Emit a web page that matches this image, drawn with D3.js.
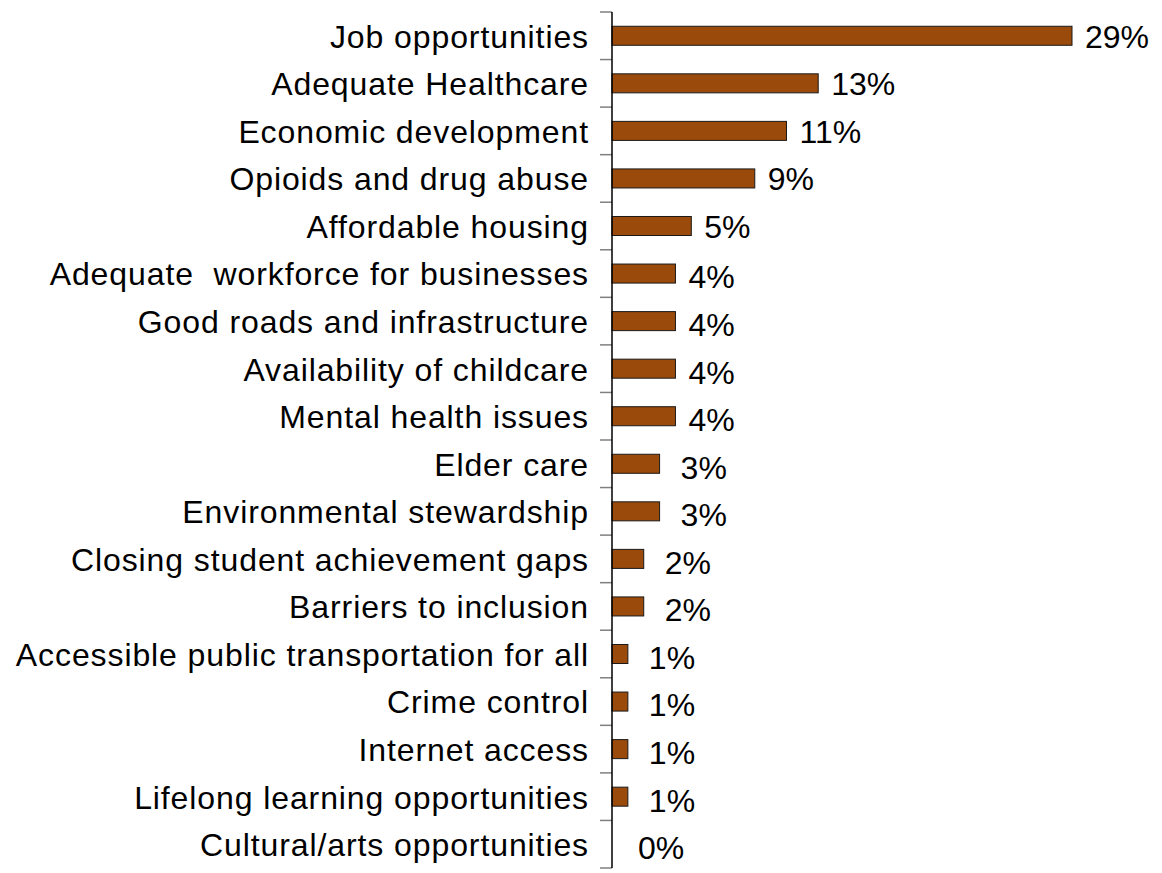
<!DOCTYPE html>
<html>
<head>
<meta charset="utf-8">
<script src="https://cdn.jsdelivr.net/npm/d3@7"></script>
<style>
  html, body { margin: 0; padding: 0; background: #fff; }
  svg { display: block; }
  text { font-family: "Liberation Sans", Arial, sans-serif; white-space: pre; }
</style>
</head>
<body>
<svg id="chart" width="1162" height="873"></svg>
<script>
// Survey priorities, share of responses (%)
const categories = [
  "Job opportunities",
  "Adequate Healthcare",
  "Economic development",
  "Opioids and drug abuse",
  "Affordable housing",
  "Adequate  workforce for businesses",
  "Good roads and infrastructure",
  "Availability of childcare",
  "Mental health issues",
  "Elder care",
  "Environmental stewardship",
  "Closing student achievement gaps",
  "Barriers to inclusion",
  "Accessible public transportation for all",
  "Crime control",
  "Internet access",
  "Lifelong learning opportunities",
  "Cultural/arts opportunities"
];
const values = [29, 13, 11, 9, 5, 4, 4, 4, 4, 3, 3, 2, 2, 1, 1, 1, 1, 0];
const valueLabels = values.map(v => v + "%");

const svg = d3.select("#chart");
const axisX = 612;
const plotTop = 12, plotBottom = 868;
const fontSize = 32;

const y = d3.scaleBand()
  .domain(categories)
  .range([plotTop, plotBottom])
  .paddingInner(0.6)
  .paddingOuter(0.3);

const x = d3.scaleLinear()
  .domain([0, 29])
  .range([axisX, 1072]);

const rows = categories.map((c, i) => ({ c, v: values[i], label: valueLabels[i] }));

// bars
svg.append("g").selectAll("rect")
  .data(rows.filter(d => d.v > 0))
  .join("rect")
  .attr("x", x(0))
  .attr("y", d => y(d.c))
  .attr("width", d => x(d.v) - x(0))
  .attr("height", y.bandwidth())
  .attr("fill", "#9A4A0A")
  .attr("stroke", "#1a1a1a")
  .attr("stroke-width", 1);

// category axis: tick marks at band boundaries
const bounds = d3.range(categories.length + 1)
  .map(i => plotTop + i * (plotBottom - plotTop) / categories.length);
svg.append("g").selectAll("line")
  .data(bounds)
  .join("line")
  .attr("x1", axisX - 12)
  .attr("x2", axisX)
  .attr("y1", d => d)
  .attr("y2", d => d)
  .attr("stroke", "#808080")
  .attr("stroke-width", 1.5);

svg.append("line")
  .attr("x1", axisX).attr("x2", axisX)
  .attr("y1", plotTop).attr("y2", plotBottom)
  .attr("stroke", "#000")
  .attr("stroke-width", 1.5);

// category labels
svg.append("g").selectAll("text")
  .data(rows)
  .join("text")
  .attr("x", 589)
  .attr("y", d => y(d.c) + y.bandwidth() / 2)
  .attr("dy", "0.37em")
  .attr("text-anchor", "end")
  .attr("font-size", fontSize)
  .attr("letter-spacing", 0.9)
  .attr("fill", "#000")
  .text(d => d.c);

// value labels, just past the end of each bar
svg.append("g").selectAll("text")
  .data(rows)
  .join("text")
  .attr("x", d => x(d.v) + (d.v >= 4 ? 13 : d.v > 0 ? 21 : 26))
  .attr("y", d => y(d.c) + y.bandwidth() / 2 + (d.v >= 5 ? 0 : 3))
  .attr("dy", "0.37em")
  .attr("font-size", fontSize)
  .attr("fill", "#000")
  .text(d => d.label);
</script>
</body>
</html>
